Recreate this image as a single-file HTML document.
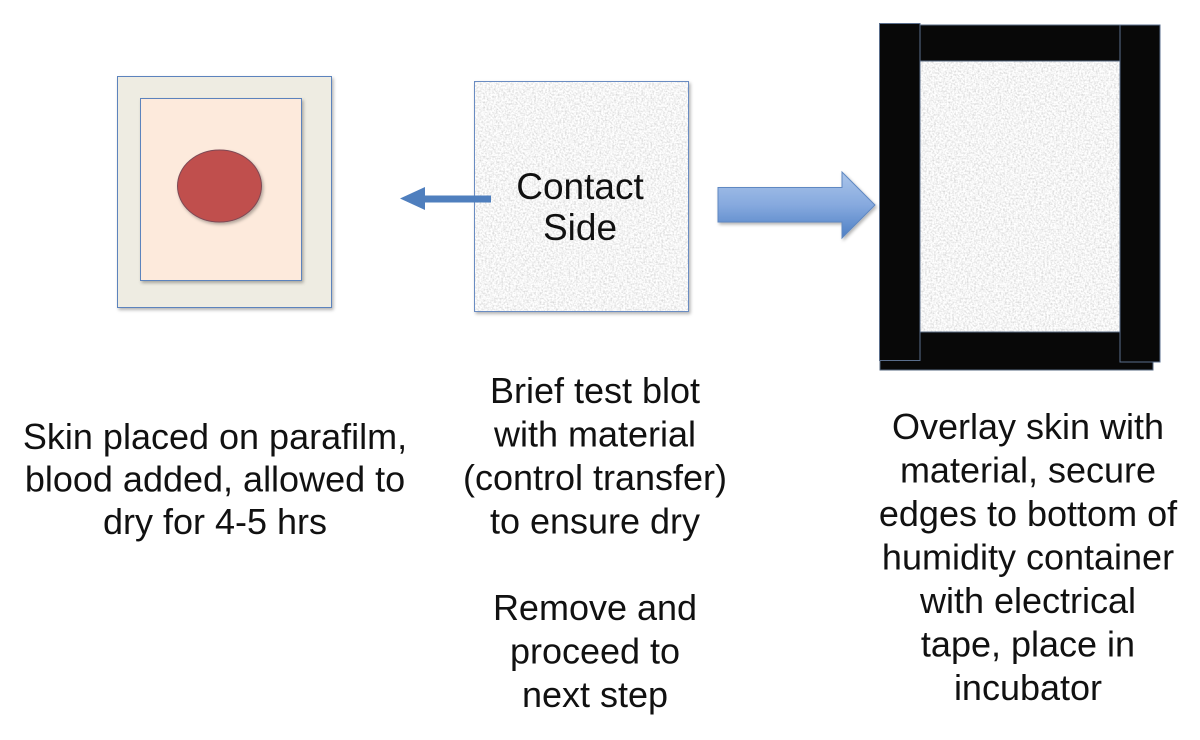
<!DOCTYPE html>
<html>
<head>
<meta charset="utf-8">
<style>
html,body{margin:0;padding:0;background:#fff;}
svg{display:block;}
text{font-family:"Liberation Sans",Arial,sans-serif;fill:#111;}
</style>
</head>
<body>
<svg width="1200" height="740" viewBox="0 0 1200 740" xmlns="http://www.w3.org/2000/svg">
<defs>
  <filter id="tex" x="0" y="0" width="1" height="1" filterUnits="objectBoundingBox">
    <feTurbulence type="fractalNoise" baseFrequency="0.55" numOctaves="2" seed="3" result="n"/>
    <feColorMatrix in="n" type="matrix" values="0.7 0 0 0 0.56  0.7 0 0 0 0.56  0.7 0 0 0 0.56  0 0 0 0 1"/>
  </filter>
  <filter id="sh" x="-10%" y="-10%" width="130%" height="130%">
    <feDropShadow dx="1.5" dy="2" stdDeviation="1.5" flood-color="#000" flood-opacity="0.3"/>
  </filter>
  <linearGradient id="ag" x1="0" y1="0" x2="0" y2="1">
    <stop offset="0" stop-color="#aac5ea"/>
    <stop offset="0.5" stop-color="#86a9de"/>
    <stop offset="1" stop-color="#4d7fc4"/>
  </linearGradient>
</defs>

<!-- Left figure -->
<rect x="117.5" y="76.5" width="214" height="231" fill="#eeece2" stroke="#5b83bd" stroke-width="1" filter="url(#sh)"/>
<rect x="140.5" y="98.5" width="161" height="182" fill="#fdeadc" stroke="#5b83bd" stroke-width="1" filter="url(#sh)"/>
<ellipse cx="219.5" cy="186" rx="42" ry="36" fill="#c0504d" stroke="#7e4a55" stroke-width="1" filter="url(#sh)"/>

<!-- Middle box -->
<g filter="url(#sh)">
<rect x="474" y="81" width="215" height="231" fill="#e9e9e9"/>
</g>
<rect x="474" y="81" width="215" height="231" filter="url(#tex)"/>
<rect x="474.5" y="81.5" width="214" height="230" fill="none" stroke="#6a8cc2" stroke-width="1"/>
<text x="580" y="199" font-size="37" text-anchor="middle">Contact</text>
<text x="580" y="240" font-size="37" text-anchor="middle">Side</text>

<!-- small arrow -->
<line x1="491" y1="199" x2="420" y2="199" stroke="#4f7fbe" stroke-width="7"/>
<polygon points="400,198.5 425,187 425,210" fill="#4f7fbe"/>

<!-- big arrow -->
<polygon points="718,187.5 842,187.5 842,172 875,205 842,238 842,222 718,222" fill="url(#ag)" stroke="#5f88c2" stroke-width="1" filter="url(#sh)"/>

<!-- Right frame -->
<rect x="920" y="60" width="200" height="272" filter="url(#tex)"/>
<rect x="880" y="332" width="273" height="38" fill="#080808" stroke="#56677f" stroke-width="1"/>
<rect x="920" y="25" width="200" height="36" fill="#080808" stroke="#56677f" stroke-width="1"/>
<rect x="1120" y="25" width="40" height="337" fill="#080808" stroke="#5a6e8c" stroke-width="1"/>
<rect x="879.5" y="23.5" width="40.5" height="337" fill="#080808" stroke="#5a6e8c" stroke-width="1"/>

<!-- Left text -->
<g font-size="36" text-anchor="middle">
<text x="215" y="449">Skin placed on parafilm,</text>
<text x="215" y="491.5">blood added, allowed to</text>
<text x="215" y="534">dry for 4-5 hrs</text>
</g>

<!-- Middle text -->
<g font-size="36" text-anchor="middle">
<text x="595" y="403">Brief test blot</text>
<text x="595" y="446.5">with material</text>
<text x="595" y="490">(control transfer)</text>
<text x="595" y="533.5">to ensure dry</text>
<text x="595" y="620">Remove and</text>
<text x="595" y="663.5">proceed to</text>
<text x="595" y="707">next step</text>
</g>

<!-- Right text -->
<g font-size="36" text-anchor="middle">
<text x="1028" y="439">Overlay skin with</text>
<text x="1028" y="482.5">material, secure</text>
<text x="1028" y="526">edges to bottom of</text>
<text x="1028" y="569.5">humidity container</text>
<text x="1028" y="613">with electrical</text>
<text x="1028" y="656.5">tape, place in</text>
<text x="1028" y="700">incubator</text>
</g>
</svg>
</body>
</html>
